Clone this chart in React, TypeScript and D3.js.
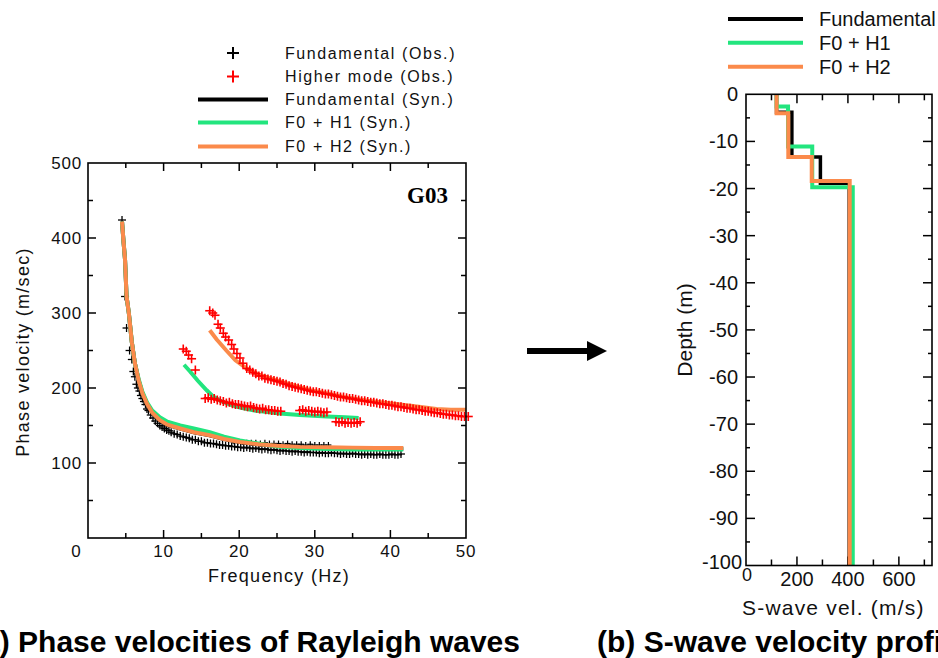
import React from 'react';
import * as d3 from 'd3';

// ---------- Left panel: phase velocities ----------
const fundObsFreq = [4.5, 4.9, 5.1, 5.5, 5.8, 6.0, 6.2, 6.4, 6.6, 6.8, 7.0, 7.2, 7.4, 7.6, 7.8, 8.0, 8.3, 8.6, 8.9, 9.2, 9.5, 9.8, 10.1, 10.4, 10.7, 11.0, 11.4, 11.8, 12.2, 12.6, 13.0, 13.4, 13.8, 14.2, 14.6, 15.0, 15.4, 15.8, 16.2, 16.6, 17.0, 17.4, 17.8, 18.2, 18.6, 19.0, 19.4, 19.8, 20.2, 20.6, 21.0, 21.4, 21.8, 22.2, 22.6, 23.0, 23.4, 23.8, 24.2, 24.6, 25.0, 25.4, 25.8, 26.2, 26.6, 27.0, 27.4, 27.8, 28.2, 28.6, 29.0, 29.4, 29.8, 30.2, 30.6, 31.0, 31.4, 31.8, 32.2, 32.6, 33.0, 33.4, 33.8, 34.2, 34.6, 35.0, 35.4, 35.8, 36.2, 36.6, 37.0, 37.4, 37.8, 38.2, 38.6, 39.0, 39.4, 39.8, 40.2, 40.6, 41.0, 41.4];
const fundObsVel = [424, 322, 280, 250, 238, 222, 215, 205, 200, 196, 190, 186, 182, 178, 172, 170, 164, 160, 156, 153, 150, 148, 146, 144, 143, 141, 139, 138, 136, 135, 134, 133, 131, 131, 129, 129, 127, 127, 126, 126, 125, 124, 124, 123, 123, 122, 122, 121, 121, 120, 121, 120, 119, 120, 119, 118, 119, 118, 117, 118, 117, 116, 117, 116, 116, 115, 116, 115, 115, 114, 115, 114, 114, 114, 113, 114, 113, 113, 114, 113, 113, 112, 113, 112, 112, 113, 112, 112, 111, 112, 111, 112, 111, 111, 112, 111, 111, 111, 112, 111, 111, 112];
const fundObsUpperFreq = [19.2, 19.8, 20.4, 21.0, 21.6, 22.2, 22.8, 23.4, 24.0, 24.6, 25.2, 25.8, 26.4, 27.0, 27.6, 28.2, 28.8, 29.4, 30.0, 30.6, 31.2, 31.8];
const fundObsUpperVel = [129, 128, 128, 127, 127, 127, 126, 127, 126, 126, 126, 125, 126, 125, 125, 125, 124, 125, 124, 124, 124, 124];

const h1ObsFreq = [12.6, 13.0, 13.3, 13.7, 14.2, 15.5, 15.9, 16.3, 16.7, 17.1, 17.5, 17.9, 18.3, 18.7, 19.1, 19.5, 19.9, 20.3, 20.7, 21.1, 21.5, 21.9, 22.3, 22.7, 23.1, 23.5, 23.9, 24.3, 24.7, 25.1, 25.5, 28.0, 28.4, 28.8, 29.2, 29.6, 30.0, 30.4, 30.8, 31.2, 31.6, 32.8, 33.2, 33.6, 34.0, 34.4, 34.8, 35.2, 35.6, 36.0];
const h1ObsVel = [252, 249, 244, 239, 224, 186, 187, 185, 186, 184, 183, 182, 180, 181, 179, 178, 178, 177, 176, 175, 176, 174, 173, 172, 173, 171, 171, 170, 170, 169, 169, 170, 171, 169, 170, 169, 168, 169, 168, 167, 168, 155, 154, 155, 153, 154, 153, 154, 153, 155];

const h2ObsFreq = [16.1, 16.5, 16.8, 17.2, 17.5, 17.9, 18.2, 18.6, 19.0, 19.3, 19.7, 20.1, 20.5, 21.0, 21.4, 21.8, 22.2, 22.6, 23.0, 23.4, 23.8, 24.2, 24.6, 25.0, 25.4, 25.8, 26.2, 26.6, 27.0, 27.4, 27.8, 28.2, 28.6, 29.0, 29.4, 29.8, 30.2, 30.6, 31.0, 31.4, 31.8, 32.2, 32.6, 33.0, 33.4, 33.8, 34.2, 34.6, 35.0, 35.4, 35.8, 36.2, 36.6, 37.0, 37.4, 37.8, 38.2, 38.6, 39.0, 39.4, 39.8, 40.2, 40.6, 41.0, 41.4, 41.8, 42.2, 42.6, 43.0, 43.4, 43.8, 44.2, 44.6, 45.0, 45.4, 45.8, 46.2, 46.6, 47.0, 47.4, 47.8, 48.2, 48.6, 49.0, 49.4, 49.8, 50.3];
const h2ObsVel = [303, 300, 297, 285, 280, 273, 268, 264, 258, 252, 246, 240, 233, 226, 224, 221, 219, 216, 216, 213, 212, 211, 210, 209, 208, 206, 205, 203, 202, 201, 200, 199, 198, 197, 196, 195, 195, 194, 193, 192, 192, 191, 190, 189, 188, 188, 187, 186, 186, 185, 184, 183, 183, 182, 181, 181, 180, 179, 179, 178, 177, 177, 176, 175, 175, 174, 173, 173, 172, 171, 171, 170, 169, 169, 168, 167, 167, 166, 165, 165, 164, 164, 163, 163, 162, 162, 162];

const fundSynFreq = [4.5, 4.7, 4.9, 5.1, 5.4, 5.8, 6.2, 6.7, 7.2, 7.8, 8.5, 9.5, 10.5, 12.2, 14.0, 16.1, 18.0, 20.1, 22.5, 25.0, 28.0, 31.6, 35.0, 38.0, 41.7];
const fundSynBlackVel = [422, 395, 371, 322, 300, 261, 233, 210, 193, 179, 167, 157, 151, 146, 141, 137, 132, 128, 125, 123, 121, 120, 119.5, 119, 119];
const fundSynGreenVel = [422, 395, 371, 322, 300, 261, 233, 212, 195, 181, 170, 161, 155, 150, 146, 141, 135, 130, 126, 122, 120, 118.5, 118, 118, 118];
const fundSynOrangeVel = [422, 395, 371, 322, 300, 261, 233, 210, 193, 179, 167, 157, 151, 146, 141, 137, 132, 128, 125, 123, 121.5, 121, 120.5, 120, 120];

const h1SynFreq = [12.7, 13.5, 14.5, 15.7, 16.5, 17.5, 18.8, 20.1, 22.0, 25.4, 28.0, 31.6, 34.0, 35.8];
const h1SynVel = [231, 222, 210, 197, 189, 183, 178, 174, 170, 166, 164, 162, 161, 160];

const h2SynFreq = [16.1, 17.0, 18.3, 19.5, 21.0, 22.5, 25.0, 27.0, 29.4, 31.5, 33.8, 37.0, 40.4, 43.0, 46.1, 48.0, 50.0];
const h2SynVel = [277, 265, 250, 237, 226, 218, 210, 204, 197, 193, 188, 183, 179, 176, 172, 171, 171];

const freqTicks = [10, 20, 30, 40, 50];
const velTicks = [100, 200, 300, 400, 500];
const leftLegendLabels = ['Fundamental (Obs.)', 'Higher mode (Obs.)', 'Fundamental (Syn.)', 'F0 + H1 (Syn.)', 'F0 + H2 (Syn.)'];

// ---------- Right panel: S-wave velocity profile ----------
const profileNames = ['Fundamental', 'F0 + H1', 'F0 + H2'];
const blackLayerTops = [0, 3.8, 13.3, 18.9];
const blackLayerVs = [120, 180, 292, 405];
const greenLayerTops = [0, 2.6, 11.1, 19.7];
const greenLayerVs = [120, 165, 260, 419];
const orangeLayerTops = [0, 4.0, 13.3, 18.4];
const orangeLayerVs = [120, 166, 258, 407];
const profileBottom = 100;
const depthTicks = [0, -10, -20, -30, -40, -50, -60, -70, -80, -90, -100];
const vsTickLabels = [200, 400, 600];

const GREEN = '#22e57e';
const ORANGE = '#fb8a4b';
const RED = '#ff0000';
const FONT = '"Liberation Sans", Arial, sans-serif';

function Cross({ x, y, s, color, w }: { x: number; y: number; s: number; color: string; w: number }) {
  return (
    <g stroke={color} strokeWidth={w}>
      <line x1={x - s / 2} x2={x + s / 2} y1={y} y2={y} />
      <line x1={x} x2={x} y1={y - s / 2} y2={y + s / 2} />
    </g>
  );
}

export default function App() {
  // left scales
  const xL = d3.scaleLinear().domain([0, 50]).range([88, 466]);
  const yL = d3.scaleLinear().domain([0, 500]).range([538, 163]);
  const lineL = d3.line<[number, number]>().x((d) => xL(d[0])).y((d) => yL(d[1]));
  const zipper = (f: number[], v: number[]) => f.map((ff, i) => [ff, v[i]] as [number, number]);

  // right scales
  const xR = d3.scaleLinear().domain([0, 730]).range([746, 932]);
  const yR = d3.scaleLinear().domain([-100, 0]).range([565.5, 94.3]);
  const lineR = d3.line<[number, number]>().x((d) => xR(d[0])).y((d) => yR(-d[1]));
  const profilePts = (tops: number[], vs: number[]) => {
    const pts: [number, number][] = [];
    tops.forEach((t, i) => {
      const b = i < tops.length - 1 ? tops[i + 1] : profileBottom;
      pts.push([vs[i], t]);
      pts.push([vs[i], b]);
    });
    return pts;
  };

  const xMinorL = d3.range(5, 50, 5);
  const yMinorL = d3.range(50, 500, 50);
  const xTicksR = d3.range(100, 730, 100);
  const yMinorR = d3.range(-95, 0, 5);

  const legY = [53, 76.5, 99.5, 122.5, 146.5];
  const legRY = [19, 42.7, 66.7];

  return (
    <svg width={938} height={658} style={{ position: 'absolute', left: 0, top: 0, background: '#fff' }} fontFamily={FONT}>
      <rect x={0} y={0} width={938} height={658} fill="#fff" />

      {/* ---------------- LEFT PANEL ---------------- */}
      {/* legend */}
      <Cross x={233} y={legY[0]} s={12} color="#000" w={2} />
      <Cross x={233} y={legY[1]} s={12} color={RED} w={2} />
      <line x1={198} x2={268} y1={legY[2]} y2={legY[2]} stroke="#000" strokeWidth={4} />
      <line x1={198} x2={268} y1={legY[3]} y2={legY[3]} stroke={GREEN} strokeWidth={4} />
      <line x1={198} x2={268} y1={legY[4]} y2={legY[4]} stroke={ORANGE} strokeWidth={4} />
      {leftLegendLabels.map((t, i) => (
        <text key={t} x={285} y={legY[i]} dominantBaseline="central" fontSize={16} letterSpacing={1.6} fill="#111">
          {t}
        </text>
      ))}

      {/* frame ticks */}
      <g stroke="#000" strokeWidth={1.5}>
        {freqTicks.slice(0, 4).map((f) => (
          <g key={'xt' + f}>
            <line x1={xL(f)} x2={xL(f)} y1={538} y2={530} />
            <line x1={xL(f)} x2={xL(f)} y1={163} y2={171} />
          </g>
        ))}
        {xMinorL.filter((f) => f % 10 !== 0).map((f) => (
          <g key={'xm' + f}>
            <line x1={xL(f)} x2={xL(f)} y1={538} y2={533} />
            <line x1={xL(f)} x2={xL(f)} y1={163} y2={168} />
          </g>
        ))}
        {velTicks.slice(0, 4).map((v) => (
          <g key={'yt' + v}>
            <line x1={88} x2={96} y1={yL(v)} y2={yL(v)} />
            <line x1={466} x2={458} y1={yL(v)} y2={yL(v)} />
          </g>
        ))}
        {yMinorL.filter((v) => v % 100 !== 0).map((v) => (
          <g key={'ym' + v}>
            <line x1={88} x2={93} y1={yL(v)} y2={yL(v)} />
            <line x1={466} x2={461} y1={yL(v)} y2={yL(v)} />
          </g>
        ))}
      </g>

      {/* data: black obs under lines */}
      {zipper(fundObsFreq, fundObsVel).map((d, i) => (
        <Cross key={'fo' + i} x={xL(d[0])} y={yL(d[1])} s={8} color="#000" w={1.3} />
      ))}
      {zipper(fundObsUpperFreq, fundObsUpperVel).map((d, i) => (
        <Cross key={'fu' + i} x={xL(d[0])} y={yL(d[1])} s={6} color="#000" w={1.2} />
      ))}

      <path d={lineL(zipper(fundSynFreq, fundSynBlackVel)) || ''} fill="none" stroke="#000" strokeWidth={4} />
      <path d={lineL(zipper(fundSynFreq, fundSynGreenVel)) || ''} fill="none" stroke={GREEN} strokeWidth={4} />
      <path d={lineL(zipper(h1SynFreq, h1SynVel)) || ''} fill="none" stroke={GREEN} strokeWidth={4} />
      <path d={lineL(zipper(fundSynFreq, fundSynOrangeVel)) || ''} fill="none" stroke={ORANGE} strokeWidth={4} />
      <path d={lineL(zipper(h2SynFreq, h2SynVel)) || ''} fill="none" stroke={ORANGE} strokeWidth={4} />

      {zipper(h1ObsFreq, h1ObsVel).map((d, i) => (
        <Cross key={'h1' + i} x={xL(d[0])} y={yL(d[1])} s={9} color={RED} w={1.6} />
      ))}
      {zipper(h2ObsFreq, h2ObsVel).map((d, i) => (
        <Cross key={'h2' + i} x={xL(d[0])} y={yL(d[1])} s={9} color={RED} w={1.6} />
      ))}

      <rect x={88} y={163} width={378} height={375} fill="none" stroke="#000" strokeWidth={1.6} />

      {/* tick labels */}
      {velTicks.map((v) => (
        <text key={'yl' + v} x={82} y={yL(v)} textAnchor="end" dominantBaseline="central" fontSize={17} letterSpacing={0.8} fill="#111">
          {v}
        </text>
      ))}
      {freqTicks.map((f) => (
        <text key={'xl' + f} x={xL(f)} y={557} textAnchor="middle" fontSize={17} letterSpacing={0.8} fill="#111">
          {f}
        </text>
      ))}
      <text x={76} y={557} textAnchor="middle" fontSize={17} fill="#111">0</text>
      <text x={279} y={582} textAnchor="middle" fontSize={18} letterSpacing={1.3} fill="#111">Frequency (Hz)</text>
      <text transform={`translate(29,352) rotate(-90)`} textAnchor="middle" fontSize={18} letterSpacing={1.3} fill="#111">
        Phase velocity (m/sec)
      </text>
      <text x={448} y={203} textAnchor="end" fontSize={23} fontWeight="bold" fontFamily='"Liberation Serif", "Times New Roman", serif' fill="#000">
        G03
      </text>

      {/* ---------------- ARROW ---------------- */}
      <rect x={527} y={348} width={63} height={6} fill="#000" />
      <path d="M587,341 L607,351 L587,361 Z" fill="#000" />

      {/* ---------------- RIGHT PANEL ---------------- */}
      {profileNames.map((n, i) => (
        <g key={n}>
          <line x1={728} x2={803} y1={legRY[i]} y2={legRY[i]} stroke={[ '#000', GREEN, ORANGE ][i]} strokeWidth={4} />
          <text x={819} y={legRY[i]} dominantBaseline="central" fontSize={20} fill="#111">{n}</text>
        </g>
      ))}

      <g stroke="#000" strokeWidth={1.5}>
        {xTicksR.map((v) => {
          const len = v % 200 === 0 ? 9 : 6;
          return (
            <g key={'rx' + v}>
              <line x1={xR(v)} x2={xR(v)} y1={565.5} y2={565.5 - len} />
              <line x1={xR(v)} x2={xR(v)} y1={94.3} y2={94.3 + len} />
            </g>
          );
        })}
        {depthTicks.slice(1, -1).map((d) => (
          <g key={'ry' + d}>
            <line x1={746} x2={755} y1={yR(d)} y2={yR(d)} />
            <line x1={932} x2={923} y1={yR(d)} y2={yR(d)} />
          </g>
        ))}
        {yMinorR.filter((d) => d % 10 !== 0).map((d) => (
          <g key={'rym' + d}>
            <line x1={746} x2={750} y1={yR(d)} y2={yR(d)} />
            <line x1={932} x2={928} y1={yR(d)} y2={yR(d)} />
          </g>
        ))}
      </g>

      <path d={lineR(profilePts(blackLayerTops, blackLayerVs)) || ''} fill="none" stroke="#000" strokeWidth={3.5} />
      <path d={lineR(profilePts(greenLayerTops, greenLayerVs)) || ''} fill="none" stroke={GREEN} strokeWidth={4} />
      <path d={lineR(profilePts(orangeLayerTops, orangeLayerVs)) || ''} fill="none" stroke={ORANGE} strokeWidth={4} />

      <rect x={746} y={94.3} width={186} height={471.2} fill="none" stroke="#000" strokeWidth={1.6} />

      {depthTicks.map((d) => (
        <text key={'rdl' + d} x={d === -100 ? 742 : 738} y={d === -100 ? yR(d) - 4 : yR(d)} textAnchor="end" dominantBaseline="central" fontSize={20} fill="#111">
          {d}
        </text>
      ))}
      <text x={747} y={581} textAnchor="middle" fontSize={18} fill="#111">0</text>
      {vsTickLabels.map((v) => (
        <text key={'rvl' + v} x={xR(v)} y={586} textAnchor="middle" fontSize={20} fill="#111">{v}</text>
      ))}
      <text x={742} y={615} fontSize={21} letterSpacing={1.2} fill="#111">S-wave vel. (m/s)</text>
      <text transform={`translate(692,330) rotate(-90)`} textAnchor="middle" fontSize={21} fill="#111">Depth (m)</text>

      {/* ---------------- CAPTIONS ---------------- */}
      <text x={520} y={652} textAnchor="end" fontSize={30} fontWeight="bold" fill="#000">
        (a) Phase velocities of Rayleigh waves
      </text>
      <text x={597} y={652} fontSize={30} fontWeight="bold" fill="#000">
        (b) S-wave velocity profile
      </text>
    </svg>
  );
}
